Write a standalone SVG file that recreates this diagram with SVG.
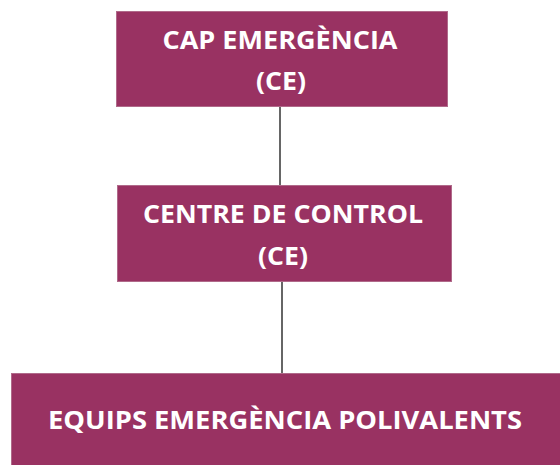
<svg xmlns="http://www.w3.org/2000/svg" width="560" height="465" viewBox="0 0 560 465">
<style>
.box{fill:#993262;stroke:#b06a8a;stroke-width:1}
.t{font-family:"Open Sans","Liberation Sans",sans-serif;font-weight:bold;font-size:25px;fill:#ffffff;text-anchor:middle}
.c{stroke:#333333;stroke-width:1.5;fill:none}
</style>
<rect width="560" height="465" fill="#ffffff"/>
<g id="connectors">
<line class="c" x1="280" y1="107" x2="280" y2="185"/>
<line class="c" x1="282" y1="282" x2="282" y2="373"/>
</g>
<g id="cap">
<rect class="box" x="116.5" y="11.5" width="331" height="95"/>
<text class="t" x="280" y="49" textLength="235" lengthAdjust="spacingAndGlyphs">CAP EMERGÈNCIA</text>
<text class="t" x="281" y="90" textLength="50" lengthAdjust="spacingAndGlyphs">(CE)</text>
</g>
<g id="centre">
<rect class="box" x="117.5" y="185.5" width="334" height="96"/>
<text class="t" x="283" y="223" textLength="280" lengthAdjust="spacingAndGlyphs">CENTRE DE CONTROL</text>
<text class="t" x="283" y="265" textLength="50" lengthAdjust="spacingAndGlyphs">(CE)</text>
</g>
<g id="equips">
<rect class="box" x="11.5" y="373.5" width="550" height="93"/>
<text class="t" x="285" y="429" textLength="474" lengthAdjust="spacingAndGlyphs">EQUIPS EMERGÈNCIA POLIVALENTS</text>
</g>
</svg>
